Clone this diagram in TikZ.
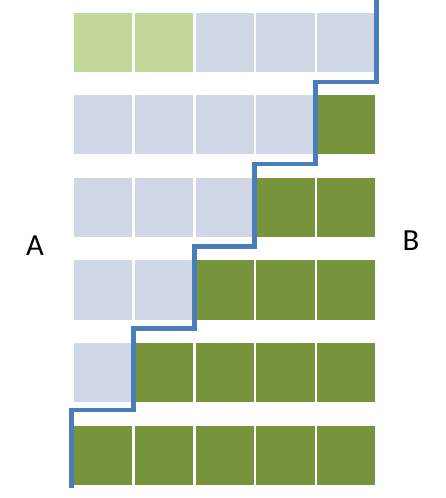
\documentclass[tikz,border=0pt]{standalone}
\usepackage{fontspec}
\setmainfont{Carlito}
\definecolor{lgreen}{RGB}{196,215,155}
\definecolor{lblue}{RGB}{208,216,232}
\definecolor{dgreen}{RGB}{119,147,60}
\definecolor{stairblue}{RGB}{74,126,187}
\begin{document}
\begin{tikzpicture}[
    x=0.75pt, y=-0.75pt,
    label/.style={font=\fontsize{23}{27}\selectfont, inner sep=0pt},
    stair/.style={stairblue, line width=3.4pt}
]
  \useasboundingbox (0,0) rectangle (445,498);

  % Grid of cells, one row per list
  \foreach \colours [count=\r from 0] in {
      {lgreen,lgreen,lblue,lblue,lblue},
      {lblue,lblue,lblue,lblue,dgreen},
      {lblue,lblue,lblue,dgreen,dgreen},
      {lblue,lblue,dgreen,dgreen,dgreen},
      {lblue,dgreen,dgreen,dgreen,dgreen},
      {dgreen,dgreen,dgreen,dgreen,dgreen}}
    \foreach \fillc [count=\c from 0] in \colours
      \fill[\fillc] ({74+\c*60.75},{12.7+\r*82.6}) rectangle +(58.3,59);

  % Staircase boundary
  \draw[stair] (376.5,0) -- (376.5,82) -- (315.5,82) -- (315.5,164)
    -- (254.7,164) -- (254.7,246.7) -- (194.3,246.7) -- (194.3,328.7)
    -- (133.7,328.7) -- (133.7,410) -- (71.7,410) -- (71.7,488);

  % Side labels
  \node[label] (a) at (35,246) {A};
  \node[label] (b) at (411,240.5) {B};

\end{tikzpicture}
\end{document}
